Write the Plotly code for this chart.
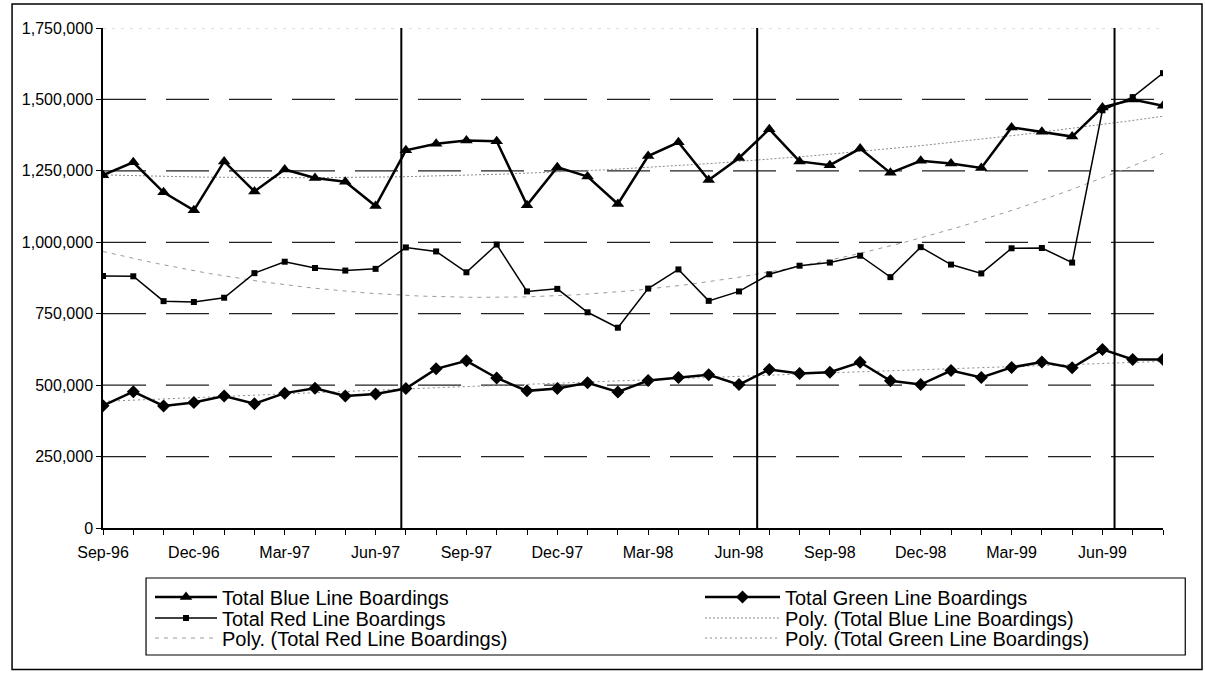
import numpy as np
import plotly.graph_objects as go

# Monthly boardings, Sep-96 .. Aug-99
MONTHS = [
    "Sep-96", "Oct-96", "Nov-96", "Dec-96", "Jan-97", "Feb-97", "Mar-97", "Apr-97",
    "May-97", "Jun-97", "Jul-97", "Aug-97", "Sep-97", "Oct-97", "Nov-97", "Dec-97",
    "Jan-98", "Feb-98", "Mar-98", "Apr-98", "May-98", "Jun-98", "Jul-98", "Aug-98",
    "Sep-98", "Oct-98", "Nov-98", "Dec-98", "Jan-99", "Feb-99", "Mar-99", "Apr-99",
    "May-99", "Jun-99", "Jul-99", "Aug-99",
]

BLUE = [
    1235000, 1280000, 1175000, 1112000, 1283000, 1178000, 1255000, 1225000,
    1212000, 1127000, 1322000, 1345000, 1356000, 1354000, 1130000, 1263000,
    1230000, 1134000, 1302000, 1350000, 1218000, 1295000, 1396000, 1283000,
    1270000, 1328000, 1243000, 1285000, 1276000, 1260000, 1402000, 1387000,
    1370000, 1472000, 1500000, 1478000,
]

RED = [
    882000, 881000, 794000, 791000, 806000, 892000, 932000, 910000,
    901000, 907000, 982000, 968000, 895000, 992000, 828000, 837000,
    755000, 701000, 838000, 905000, 795000, 828000, 888000, 918000,
    929000, 953000, 878000, 983000, 922000, 891000, 979000, 980000,
    929000, 1462000, 1508000, 1592000,
]

GREEN = [
    428000, 477000, 427000, 439000, 462000, 435000, 472000, 489000,
    462000, 469000, 488000, 557000, 585000, 525000, 480000, 488000,
    508000, 476000, 516000, 527000, 536000, 502000, 555000, 541000,
    545000, 580000, 515000, 502000, 551000, 527000, 562000, 581000,
    561000, 625000, 590000, 590000,
]

Y_TICKS = [0, 250000, 500000, 750000, 1000000, 1250000, 1500000, 1750000]

# Fiscal-year dividers, in month-index units along the x axis
FY_DIVIDERS = [9.85, 21.6, 33.4]

FONT = "Arial, 'Liberation Sans', sans-serif"

x = np.arange(len(MONTHS))
x_fit = np.linspace(0, len(MONTHS) - 1, 200)


def poly_trend(values, order=2):
    coeffs = np.polyfit(x, np.asarray(values, dtype=float), order)
    return np.polyval(coeffs, x_fit)


fig = go.Figure()

# Polynomial trendlines (drawn first so the data series sit on top)
fig.add_trace(go.Scatter(
    x=x_fit, y=poly_trend(BLUE), mode="lines",
    name="Poly. (Total Blue Line Boardings)",
    line=dict(color="#8a8a8a", width=1, dash="2px,2px"),
    legend="legend5", hoverinfo="skip",
))
fig.add_trace(go.Scatter(
    x=x_fit, y=poly_trend(RED), mode="lines",
    name="Poly. (Total Red Line Boardings)",
    line=dict(color="#9a9a9a", width=1, dash="4px,5px"),
    legend="legend3", hoverinfo="skip",
))
fig.add_trace(go.Scatter(
    x=x_fit, y=poly_trend(GREEN), mode="lines",
    name="Poly. (Total Green Line Boardings)",
    line=dict(color="#8a8a8a", width=1, dash="2px,3px"),
    legend="legend6", hoverinfo="skip",
))

# Data series
fig.add_trace(go.Scatter(
    x=x, y=BLUE, mode="lines+markers", name="Total Blue Line Boardings",
    line=dict(color="black", width=2.5),
    marker=dict(symbol="triangle-up", size=11, color="black"),
    legend="legend",
))
fig.add_trace(go.Scatter(
    x=x, y=RED, mode="lines+markers", name="Total Red Line Boardings",
    line=dict(color="black", width=1.5),
    marker=dict(symbol="square", size=6, color="black"),
    legend="legend2",
))
fig.add_trace(go.Scatter(
    x=x, y=GREEN, mode="lines+markers", name="Total Green Line Boardings",
    line=dict(color="black", width=2.5),
    marker=dict(symbol="diamond", size=10, color="black"),
    legend="legend4",
))

shapes = []
# Dashed horizontal gridlines
for v in Y_TICKS[1:-1]:
    shapes.append(dict(
        type="line", xref="paper", yref="y", x0=0, x1=1, y0=v, y1=v,
        line=dict(color="#222", width=1.3, dash="43px,20px"), layer="below",
    ))
# Faint top gridline
shapes.append(dict(
    type="line", xref="paper", yref="y", x0=0, x1=1, y0=Y_TICKS[-1], y1=Y_TICKS[-1],
    line=dict(color="#bbb", width=1, dash="3px,6px"), layer="below",
))
# Fiscal-year divider lines
for fx in FY_DIVIDERS:
    shapes.append(dict(
        type="line", xref="x", yref="y", x0=fx, x1=fx, y0=0, y1=Y_TICKS[-1],
        line=dict(color="black", width=2), layer="above",
    ))
# Legend box and outer chart frame
shapes.append(dict(
    type="rect", xref="paper", yref="paper", x0=0.0406, x1=1.021, y0=-0.254, y1=-0.1,
    line=dict(color="black", width=1.2),
))
shapes.append(dict(
    type="rect", xref="paper", yref="paper", x0=-0.0858, x1=1.0368, y0=-0.283, y1=1.048,
    line=dict(color="black", width=1.5),
))


def legend_slot(px_x, px_y, item_w):
    """One-entry legend placed so its row is centred on pixel row px_y."""
    return dict(
        x=(px_x - 103) / 1060, y=(528 - px_y) / 500,
        xanchor="left", yanchor="middle", orientation="v",
        font=dict(family=FONT, size=20, color="black"),
        bgcolor="rgba(0,0,0,0)", borderwidth=0, itemwidth=item_w,
    )


ROWS = [597, 618, 638]
LEFT_X, LEFT_W = 150, 62
RIGHT_X, RIGHT_W = 700, 75

fig.update_layout(
    width=1205, height=682,
    margin=dict(l=103, r=42, t=28, b=154),
    paper_bgcolor="white", plot_bgcolor="white",
    font=dict(family=FONT, size=16, color="black"),
    shapes=shapes,
    showlegend=True,
    legend=legend_slot(LEFT_X, ROWS[0], LEFT_W),
    legend2=legend_slot(LEFT_X, ROWS[1], LEFT_W),
    legend3=legend_slot(LEFT_X, ROWS[2], LEFT_W),
    legend4=legend_slot(RIGHT_X, ROWS[0], RIGHT_W),
    legend5=legend_slot(RIGHT_X, ROWS[1], RIGHT_W),
    legend6=legend_slot(RIGHT_X, ROWS[2], RIGHT_W),
    xaxis=dict(
        range=[0, len(MONTHS) - 1],
        tickmode="array", tickvals=list(x),
        ticktext=[m if i % 3 == 0 else "" for i, m in enumerate(MONTHS)],
        ticks="outside", ticklen=5, tickwidth=1, tickcolor="black",
        showline=True, linecolor="black", linewidth=1.5,
        showgrid=False, zeroline=False, automargin=False,
        tickfont=dict(family=FONT, size=16, color="black"),
        ticklabelstandoff=4,
    ),
    yaxis=dict(
        range=[0, Y_TICKS[-1]],
        tickmode="array", tickvals=Y_TICKS, tickformat=",d",
        ticks="outside", ticklen=5, tickwidth=1, tickcolor="black",
        showline=True, linecolor="black", linewidth=1.5,
        showgrid=False, zeroline=False, automargin=False,
        tickfont=dict(family=FONT, size=16, color="black"),
    ),
)

fig.write_html("out.html")
